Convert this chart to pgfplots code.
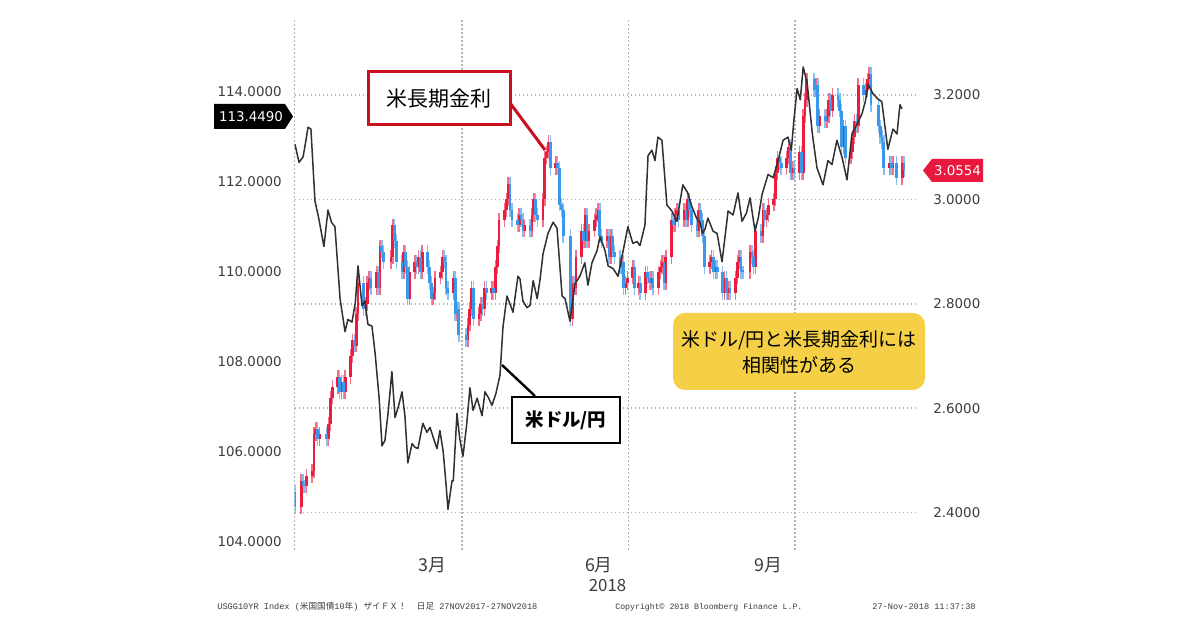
\documentclass[border=0pt]{standalone}
\usepackage{fontspec}
\setmainfont{DejaVu Sans}
\newfontfamily\cjk{Noto Sans CJK JP}
\newfontfamily\mono{Liberation Mono}
\usepackage{pgfplots}
\pgfplotsset{compat=1.18}
\usepackage{pgfplotstable}

\definecolor{upred}{HTML}{EC1C3E}
\definecolor{upredL}{HTML}{F27088}
\definecolor{dnblue}{HTML}{3A98EA}
\definecolor{dnblueL}{HTML}{86BFF2}
\definecolor{fxline}{HTML}{303030}
\definecolor{gridc}{HTML}{B4B4B4}
\definecolor{lbl}{HTML}{3C3C3C}
\definecolor{boxred}{HTML}{C8101E}
\definecolor{tagred}{HTML}{E8193C}
\definecolor{noteyel}{HTML}{F5CF46}

% US 10Y yield, daily: day of 2018 (Jan 1 = 0), open, close
\pgfplotstableread{
d o c
-2.5 2.44 2.41
1 2.41 2.46
2 2.46 2.45
3 2.45 2.45
4 2.45 2.47
7 2.47 2.48
8 2.48 2.55
9 2.55 2.56
10 2.56 2.54
11 2.54 2.55
15 2.55 2.54
16 2.54 2.57
17 2.57 2.62
18 2.62 2.64
21 2.64 2.66
22 2.66 2.63
23 2.63 2.65
24 2.65 2.63
25 2.63 2.66
28 2.66 2.70
29 2.70 2.73
30 2.73 2.72
31 2.72 2.78
32 2.78 2.84
35 2.84 2.79
36 2.79 2.80
37 2.80 2.84
38 2.84 2.85
39 2.85 2.83
42 2.83 2.86
43 2.86 2.83
44 2.83 2.91
45 2.91 2.90
46 2.90 2.88
50 2.88 2.89
51 2.89 2.95
52 2.95 2.92
53 2.92 2.88
56 2.88 2.86
57 2.86 2.90
58 2.90 2.87
59 2.87 2.81
60 2.81 2.86
63 2.86 2.88
64 2.88 2.87
65 2.87 2.89
66 2.89 2.86
67 2.86 2.90
70 2.90 2.87
71 2.87 2.84
72 2.84 2.81
73 2.81 2.82
74 2.82 2.85
77 2.85 2.86
78 2.86 2.89
79 2.89 2.88
80 2.88 2.83
81 2.83 2.82
84 2.82 2.85
85 2.85 2.78
86 2.78 2.79
87 2.79 2.74
91 2.74 2.73
92 2.73 2.76
93 2.76 2.79
94 2.79 2.83
95 2.83 2.77
98 2.77 2.78
99 2.78 2.80
100 2.80 2.79
101 2.79 2.83
102 2.83 2.82
105 2.82 2.83
106 2.83 2.82
107 2.82 2.87
108 2.87 2.91
109 2.91 2.96
112 2.96 2.98
113 2.98 3.00
114 3.00 3.03
115 3.03 2.98
116 2.98 2.96
119 2.96 2.95
120 2.95 2.97
121 2.97 2.96
122 2.96 2.94
123 2.94 2.95
126 2.95 2.94
127 2.94 2.97
128 2.97 3.00
129 3.00 2.97
130 2.97 2.96
133 2.96 3.00
134 3.00 3.08
135 3.08 3.09
136 3.09 3.11
137 3.11 3.06
140 3.06 3.07
141 3.07 3.06
142 3.06 2.99
143 2.99 2.98
144 2.98 2.93
148 2.93 2.77
149 2.77 2.84
150 2.84 2.83
151 2.83 2.89
154 2.89 2.94
155 2.94 2.92
156 2.92 2.97
157 2.97 2.92
158 2.92 2.94
161 2.94 2.96
162 2.96 2.97
163 2.97 2.98
164 2.98 2.93
165 2.93 2.92
168 2.92 2.93
169 2.93 2.89
170 2.89 2.93
171 2.93 2.90
172 2.90 2.89
175 2.89 2.87
176 2.87 2.88
177 2.88 2.83
178 2.83 2.84
179 2.84 2.85
182 2.85 2.87
183 2.87 2.83
185 2.83 2.84
186 2.84 2.82
189 2.82 2.86
190 2.86 2.85
191 2.85 2.84
192 2.84 2.85
193 2.85 2.83
196 2.83 2.86
197 2.86 2.87
198 2.87 2.88
199 2.88 2.84
200 2.84 2.89
203 2.89 2.96
204 2.96 2.95
205 2.95 2.97
206 2.97 2.98
207 2.98 2.96
210 2.96 2.98
211 2.98 2.96
212 2.96 3.00
213 3.00 2.98
214 2.98 2.95
217 2.95 2.94
218 2.94 2.98
219 2.98 2.96
220 2.96 2.93
221 2.93 2.87
224 2.87 2.88
225 2.88 2.89
226 2.89 2.86
227 2.86 2.87
228 2.87 2.86
231 2.86 2.82
232 2.82 2.85
233 2.85 2.82
234 2.82 2.83
235 2.83 2.82
238 2.82 2.85
239 2.85 2.88
240 2.88 2.89
241 2.89 2.86
242 2.86 2.86
246 2.86 2.90
247 2.90 2.89
248 2.89 2.87
249 2.87 2.94
252 2.94 2.93
253 2.93 2.98
254 2.98 2.96
255 2.96 2.97
256 2.97 2.99
259 2.99 3.00
260 3.00 3.05
261 3.05 3.08
262 3.08 3.07
263 3.07 3.06
266 3.06 3.08
267 3.08 3.10
268 3.10 3.05
269 3.05 3.06
270 3.06 3.05
273 3.05 3.09
274 3.09 3.05
275 3.05 3.16
276 3.16 3.19
277 3.19 3.23
281 3.23 3.21
282 3.21 3.22
283 3.22 3.14
284 3.14 3.16
287 3.16 3.15
288 3.15 3.16
289 3.16 3.19
290 3.19 3.17
291 3.17 3.20
294 3.20 3.19
295 3.19 3.17
296 3.17 3.10
297 3.10 3.14
298 3.14 3.08
301 3.08 3.09
302 3.09 3.12
303 3.12 3.15
304 3.15 3.14
305 3.14 3.22
308 3.22 3.20
309 3.20 3.21
310 3.21 3.23
311 3.23 3.24
312 3.24 3.18
316 3.18 3.14
317 3.14 3.12
318 3.12 3.11
319 3.11 3.06
322 3.06 3.07
323 3.07 3.06
324 3.06 3.07
326 3.07 3.04
329 3.04 3.07
330 3.07 3.056
}\yld

% USD/JPY
\pgfplotstableread{
d v
-2.4 112.83
-0.2 112.43
2.0 112.55
3.5 112.90
4.7 113.21
6.3 113.17
8.5 111.57
10.5 111.20
13.4 110.56
15.6 111.37
17.5 111.10
19.4 111.00
22.2 109.40
24.9 108.67
26.5 108.94
28.7 108.88
30.5 109.30
32.0 110.13
34.2 109.24
35.8 109.35
37.4 108.83
39.6 108.79
41.3 108.20
43.5 107.20
45.1 106.13
46.7 106.25
48.5 106.90
50.5 107.78
52.2 106.76
54.0 107.00
56.0 107.33
57.6 106.80
59.2 105.75
61.5 106.18
63.0 106.10
64.7 106.07
67.4 106.63
69.6 106.43
71.3 106.54
73.2 106.30
75.1 106.07
76.7 106.47
78.5 106.00
80.0 105.30
81.1 104.72
83.3 105.35
84.0 105.35
86.0 106.85
87.5 106.30
89.3 105.90
91.3 106.60
93.1 107.42
94.8 106.92
97.0 107.19
99.7 106.80
101.3 107.33
103.2 107.20
105.1 107.03
107.3 107.30
109.5 107.70
111.1 108.76
113.3 109.46
116.6 109.10
119.3 109.90
120.4 109.84
122.0 109.35
124.2 109.20
125.9 109.25
127.6 109.80
129.8 109.40
131.4 109.84
133.0 110.40
135.7 110.85
138.5 111.10
140.6 110.97
143.4 109.46
145.0 109.40
147.7 108.90
150.4 109.73
153.1 109.90
155.8 110.20
157.5 109.70
159.7 110.20
162.5 110.47
164.1 110.78
166.8 110.47
168.5 110.13
171.2 110.07
173.9 109.90
176.6 110.44
179.3 111.00
182.0 110.63
184.3 110.67
185.9 110.58
188.6 111.03
190.3 112.58
192.4 112.70
194.1 112.47
195.7 112.99
197.9 112.92
200.6 111.48
203.3 111.35
206.0 111.12
209.3 111.93
212.0 111.75
214.1 111.46
216.8 111.19
218.7 111.10
220.0 110.85
221.4 110.95
223.0 111.19
225.8 110.90
228.0 110.85
230.7 110.22
234.0 111.35
236.7 111.26
239.4 111.75
241.6 111.12
244.0 111.30
246.0 111.64
248.7 110.90
250.5 111.20
252.5 111.71
255.8 112.16
258.6 112.09
261.3 112.47
264.0 112.92
266.7 112.99
268.5 112.70
270.0 113.40
271.7 114.07
273.4 113.82
275.0 114.55
277.2 114.18
280.0 113.06
282.5 112.31
285.8 111.93
288.5 112.47
290.7 112.38
293.4 112.92
296.2 112.54
298.9 112.04
301.6 113.06
304.4 113.28
307.1 113.51
309.0 113.80
310.5 114.16
313.0 113.96
315.7 113.84
317.9 113.78
321.2 112.72
324.0 113.17
326.2 113.06
327.8 113.71
328.9 113.62
}\fx

\pgfplotsset{
  tickfont/.style={font=\fontsize{6.7}{8}\selectfont, text=lbl},
  candle/.style 2 args={draw=none, mark=none, forget plot,
    error bars/.cd, y dir=plus, y explicit, error mark=none,
    error bar style={draw=#1, line width=#2}},
}

\begin{document}
\begin{tikzpicture}
\path[use as bounding box, fill=white] (0,0) rectangle (600pt,315pt);

% ---------- right axis: US 10Y yield (candles) ----------
\begin{axis}[
  at={(147.25pt,40pt)}, anchor=south west,
  width=311.75pt, height=265pt, scale only axis,
  xmin=-2.67, xmax=337.66, ymin=2.3282, ymax=3.3437,
  axis x line*=bottom, axis y line*=right,
  axis line style={draw=none},
  xtick={-2.67,88.76,179.64,270.6}, xticklabels={,,,},
  ytick={2.4,2.6,2.8,3.0,3.2},
  yticklabels={2.4000,2.6000,2.8000,3.0000,3.2000},
  major tick length=0pt,
  xmajorgrids, ymajorgrids,
  major grid style={gridc, line width=0.75pt, dash pattern=on 0.75pt off 1.25pt},
  yticklabel style={tickfont, inner sep=0pt, anchor=west, xshift=7.5pt},
  clip mode=individual,
]
% wicks
\addplot[candle={upredL}{0.75pt}]
  table[x=d, y expr={\thisrow{c}>\thisrow{o} ? \thisrow{o}-0.013 : 10},
        y error plus expr={abs(\thisrow{c}-\thisrow{o})+0.026}] {\yld};
\addplot[candle={dnblueL}{0.75pt}]
  table[x=d, y expr={\thisrow{c}>\thisrow{o} ? 10 : \thisrow{c}-0.013},
        y error plus expr={abs(\thisrow{c}-\thisrow{o})+0.026}] {\yld};
% bodies
\addplot[candle={upred}{1.4pt}]
  table[x=d, y expr={\thisrow{c}>\thisrow{o} ? \thisrow{o} : 10},
        y error plus expr={max(abs(\thisrow{c}-\thisrow{o}),0.004)}] {\yld};
\addplot[candle={dnblue}{1.4pt}]
  table[x=d, y expr={\thisrow{c}>\thisrow{o} ? 10 : \thisrow{c}},
        y error plus expr={max(abs(\thisrow{c}-\thisrow{o}),0.004)}] {\yld};
% last value tag
\coordinate (R) at (axis cs:337.66,3.0554);
\fill[tagred] ([xshift=2.5pt]R) -- ([xshift=7pt,yshift=5.75pt]R)
  -- ([xshift=32.5pt,yshift=5.75pt]R) -- ([xshift=32.5pt,yshift=-5.75pt]R)
  -- ([xshift=7pt,yshift=-5.75pt]R) -- cycle;
\node[font=\fontsize{6.7}{8}\selectfont, text=white, inner sep=0pt] at ([xshift=19.75pt]R) {3.0554};
\end{axis}

% ---------- left axis: USD/JPY ----------
\begin{axis}[
  at={(147.25pt,40pt)}, anchor=south west,
  width=311.75pt, height=265pt, scale only axis,
  xmin=-2.67, xmax=337.66, ymin=103.816, ymax=115.593,
  axis x line=none, axis y line*=left,
  axis line style={draw=none},
  ytick={104,106,108,110,112,114},
  yticklabels={104.0000,106.0000,108.0000,110.0000,112.0000,114.0000},
  major tick length=0pt,
  yticklabel style={tickfont, inner sep=0pt, anchor=east, xshift=-6.25pt},
  clip mode=individual,
]
\addplot[fxline, line width=0.75pt, line join=round, mark=none] table[x=d, y=v] {\fx};
\coordinate (L) at (axis cs:-2.67,113.449);
\fill[black] ([xshift=-0.75pt]L) -- ([xshift=-4.75pt,yshift=6.25pt]L)
  -- ([xshift=-40.25pt,yshift=6.25pt]L) -- ([xshift=-40.25pt,yshift=-6.25pt]L)
  -- ([xshift=-4.75pt,yshift=-6.25pt]L) -- cycle;
\node[font=\fontsize{6.7}{8}\selectfont, text=white, inner sep=0pt] at ([xshift=-21.75pt]L) {113.4490};
% month labels
\node[font=\cjk\fontsize{8.9}{10}\selectfont, text=lbl, yshift=-7.5pt] at (axis cs:72.4,103.816) {3月};
\node[font=\cjk\fontsize{8.9}{10}\selectfont, text=lbl, yshift=-7.5pt] at (axis cs:163.5,103.816) {6月};
\node[font=\cjk\fontsize{8.9}{10}\selectfont, text=lbl, yshift=-7.5pt] at (axis cs:255.8,103.816) {9月};
\node[font=\cjk\fontsize{8.4}{10}\selectfont, text=lbl, yshift=-18pt] at (axis cs:168.2,103.816) {2018};
\end{axis}

% ---------- annotations ----------
\draw[boxred, line width=1.5pt] (255pt,263.5pt) -- (272.5pt,240pt);
\draw[boxred, line width=1.5pt, fill=white] (184pt,252.5pt) rectangle (255pt,279pt);
\node[font=\cjk\fontsize{10.5}{12}\selectfont, text=black] at (219.5pt,265.75pt) {米長期金利};

\draw[black, line width=1.2pt] (267.5pt,117pt) -- (251pt,132.5pt);
\draw[black, line width=1.3pt, fill=white] (256pt,93.5pt) rectangle (310pt,116.5pt);
\node[font=\cjk\bfseries\fontsize{9.2}{11}\selectfont, text=black] at (283pt,105pt) {米ドル/円};

\fill[noteyel, rounded corners=6pt] (336.5pt,120pt) rectangle (462.5pt,158.5pt);
\node[font=\cjk\fontsize{9.5}{11}\selectfont, text=black] at (399.5pt,145pt) {米ドル/円と米長期金利には};
\node[font=\cjk\fontsize{9.5}{11}\selectfont, text=black] at (399.5pt,132.5pt) {相関性がある};

% footer
\node[anchor=west, inner sep=0pt, font=\mono\fontsize{4.3}{5}\selectfont, text=lbl] at (108.5pt,11.5pt)
  {USGG10YR Index ({\cjk 米国国債}10{\cjk 年}) {\cjk ザイＦＸ！}\ \ {\cjk 日足} 27NOV2017-27NOV2018};
\node[anchor=west, inner sep=0pt, font=\mono\fontsize{4.1}{5}\selectfont, text=lbl] at (307.5pt,11.5pt)
  {Copyright© 2018 Bloomberg Finance L.P.};
\node[anchor=west, inner sep=0pt, font=\mono\fontsize{4.3}{5}\selectfont, text=lbl] at (436pt,11.5pt)
  {27-Nov-2018 11:37:38};
\end{tikzpicture}
\end{document}
